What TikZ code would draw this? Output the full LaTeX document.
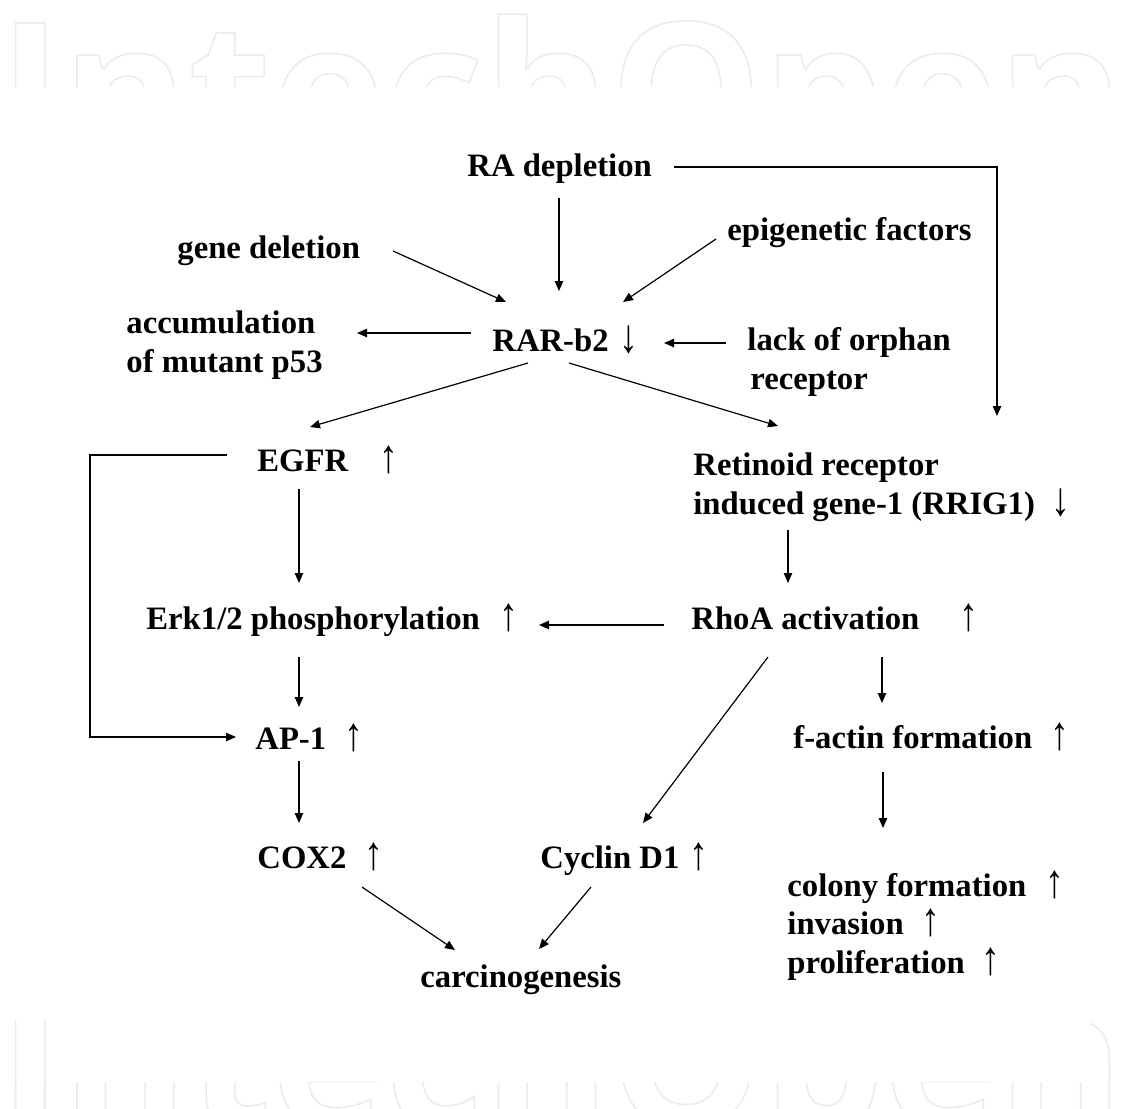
\documentclass[tikz,border=0pt]{standalone}
\usepackage{fontspec}
\setmainfont{Liberation Serif}
\newfontfamily\wmfont{Open Sans}
\usetikzlibrary{arrows.meta,calc}
\tikzset{
  lbl/.style={inner sep=0pt, anchor=base west, align=left,
              font=\bfseries\fontsize{16.35}{19.25}\selectfont},
  arr/.style={line width=0.6pt, -{Triangle[length=5pt,width=4.2pt]}},
  wm/.style={inner sep=0pt, anchor=base west, text=black!8,
             font=\wmfont\bfseries\fontsize{96}{100}\selectfont}
}
\newcommand{\outlined}[1]{\special{pdf:literal direct 1 Tr 0.8 w}#1\special{pdf:literal direct 0 Tr}}
\newcommand{\uparr}{\raisebox{-0.5pt}{\scalebox{1.15}[1.45]{↑}}}
\newcommand{\downarr}{\raisebox{-0.5pt}{\scalebox{1.15}[1.45]{↓}}}
\begin{document}
\begin{tikzpicture}[x=0.5pt,y=-0.5pt]
\useasboundingbox (0,0) rectangle (1140,1108);
% watermark, top and bottom bands
\begin{scope}
  \clip (0,0) rectangle (1140,86);
  \node[wm] (wmtop) at (-2,160) {\outlined{IntechOpen}};
\end{scope}
\foreach \xa/\ya/\xb [count=\i] in {0/1082/1140, 0/1020/75, 1090/1020/1140}{
  \begin{scope}
    \clip (\xa,\ya) rectangle (\xb,1108);
    \node[wm] (wmbot\i) at (-2,1127) {\outlined{IntechOpen}};
  \end{scope}
}
% labels
\node[lbl] (radepl) at (467,176) {RA depletion};
\node[lbl] (genedel) at (177,258) {gene deletion};
\node[lbl] (epigen) at (727,240) {epigenetic factors};
\node[lbl] (accum) at (126,372) {accumulation\\of mutant p53};
\node[lbl] (rarb) at (492,351) {RAR-b2\hspace{5.5pt}\downarr};
\node[lbl] (lackorph) at (747,389) {lack of orphan\\\hspace{1.5pt}receptor};
\node[lbl] (egfr) at (257,471) {EGFR\hspace{15.5pt}\uparr};
\node[lbl] (rrig) at (693,514) {Retinoid receptor\\induced gene-1 (RRIG1)\hspace{8.5pt}\downarr};
\node[lbl] (erk) at (146,629) {Erk1/2 phosphorylation\hspace{10pt}\uparr};
\node[lbl] (rhoa) at (691,629) {RhoA activation\hspace{20pt}\uparr};
\node[lbl] (ap1) at (255,749) {AP-1\hspace{9pt}\uparr};
\node[lbl] (factin) at (793,748) {f-actin formation\hspace{9pt}\uparr};
\node[lbl] (cox2) at (257,868) {COX2\hspace{9pt}\uparr};
\node[lbl] (cyclin) at (540,868) {Cyclin D1\hspace{5pt}\uparr};
\node[lbl] (colony) at (787,973) {colony formation\hspace{9.5pt}\uparr\\invasion\hspace{9pt}\uparr\\proliferation\hspace{8.5pt}\uparr};
\node[lbl] (carc) at (420,987) {carcinogenesis};
% connectors
\draw[arr] ($(radepl.base west)+(92,22)$) -- ($(rarb.base west)+(67,-60)$);
\draw[arr] ($(radepl.base west)+(207,-9)$) -| ($(rrig.base west)+(304,-98)$);
\draw[arr] ($(genedel.base west)+(216,-7)$) -- ($(rarb.base west)+(14,-49)$);
\draw[arr] ($(epigen.base west)+(-11,-1)$) -- ($(rarb.base west)+(131,-49)$);
\draw[arr] ($(rarb.base west)+(-21,-18)$) -- ($(accum.base west)+(231,-39)$);
\draw[arr] ($(lackorph.base west)+(-21,-46)$) -- ($(rarb.base west)+(172,-8)$);
\draw[arr] ($(rarb.base west)+(36,12)$) -- ($(egfr.base west)+(53,-44)$);
\draw[arr] ($(rarb.base west)+(77,12)$) -- ($(rrig.base west)+(85,-88)$);
\draw[arr] ($(egfr.base west)+(-30,-16)$) -- ++(-137,0) |- ($(ap1.base west)+(-19,-12)$);
\draw[arr] ($(egfr.base west)+(42,18)$) -- ($(erk.base west)+(153,-46)$);
\draw[arr] ($(erk.base west)+(153,28)$) -- ($(ap1.base west)+(44,-42)$);
\draw[arr] ($(rrig.base west)+(95,16)$) -- ($(rhoa.base west)+(97,-46)$);
\draw[arr] ($(rhoa.base west)+(-27,-4)$) -- ($(erk.base west)+(393,-4)$);
\draw[arr] ($(rhoa.base west)+(191,28)$) -- ($(factin.base west)+(89,-45)$);
\draw[arr] ($(rhoa.base west)+(77,28)$) -- ($(cyclin.base west)+(103,-45)$);
\draw[arr] ($(ap1.base west)+(44,12)$) -- ($(cox2.base west)+(42,-45)$);
\draw[arr] ($(factin.base west)+(90,24)$) -- ($(colony.base west)+(96,-145)$);
\draw[arr] ($(cox2.base west)+(105,19)$) -- ($(carc.base west)+(35,-37)$);
\draw[arr] ($(cyclin.base west)+(51,19)$) -- ($(carc.base west)+(119,-38)$);
\end{tikzpicture}
\end{document}
